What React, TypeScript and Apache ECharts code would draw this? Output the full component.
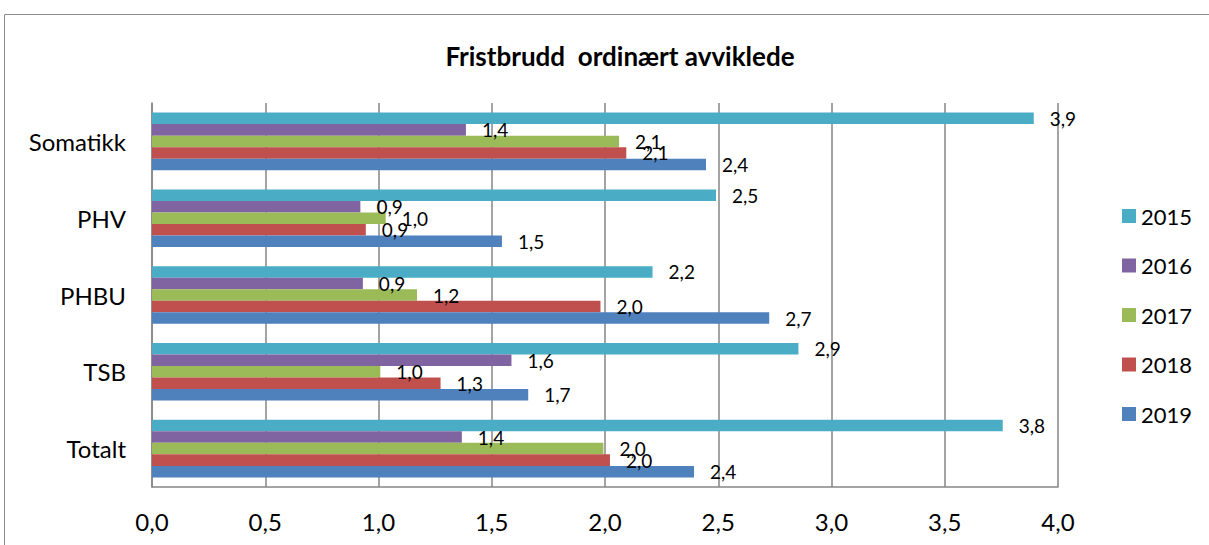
import React, { useEffect, useRef } from "react";
import * as echarts from "echarts";

const categories = ["Totalt", "TSB", "PHBU", "PHV", "Somatikk"];
const years = ["2015", "2016", "2017", "2018", "2019"];
const v2015 = [3.756, 2.854, 2.21, 2.49, 3.893];
const v2016 = [1.368, 1.587, 0.931, 0.92, 1.386];
const v2017 = [1.993, 1.008, 1.17, 1.032, 2.062];
const v2018 = [2.022, 1.274, 1.98, 0.944, 2.094];
const v2019 = [2.393, 1.661, 2.725, 1.545, 2.446];
const seriesValues = [v2015, v2016, v2017, v2018, v2019];
const colors = ["#4BACC6", "#8064A2", "#9BBB59", "#C0504D", "#4F81BD"];
const xTicks = ["0,0", "0,5", "1,0", "1,5", "2,0", "2,5", "3,0", "3,5", "4,0"];
const title = "Fristbrudd  ordinært avviklede";

const FONT = "Lato, 'Liberation Sans', sans-serif";

export default function App() {
  const ref = useRef<HTMLDivElement>(null);
  useEffect(() => {
    if (!ref.current) return;
    const chart = echarts.init(ref.current, null, { renderer: "svg" });
    chart.setOption({
      animation: false,
      backgroundColor: "#ffffff",
      textStyle: { fontFamily: FONT },
      title: {
        text: title,
        left: 615,
        top: 38,
        textAlign: "center",
        textStyle: { fontSize: 26, fontWeight: "bold", color: "#000", fontFamily: FONT },
      },
      graphic: [
        {
          type: "rect",
          shape: { x: 4.5, y: 14.5, width: 1220, height: 560 },
          style: { fill: "none", stroke: "#8c8c8c", lineWidth: 1 },
          silent: true,
        },
      ],
      legend: {
        orient: "vertical",
        left: 1117,
        top: 200,
        data: years,
        icon: "rect",
        itemWidth: 14,
        itemHeight: 14,
        itemGap: 27.5,
        textStyle: { fontSize: 22, color: "#000", fontFamily: FONT, lineHeight: 21 },
      },
      grid: { left: 152, right: 151, top: 103, bottom: 58 },
      xAxis: {
        type: "value",
        min: 0,
        max: 4,
        interval: 0.5,
        axisLine: { show: true, lineStyle: { color: "#868686", width: 1.5 } },
        axisTick: { show: false },
        splitLine: { show: true, lineStyle: { color: "#868686", width: 1.5 } },
        axisLabel: {
          fontSize: 24,
          color: "#000",
          margin: 22,
          fontFamily: FONT,
          formatter: (v: number) => xTicks[Math.round(v / 0.5)] ?? "",
        },
      },
      yAxis: {
        type: "category",
        data: categories,
        axisLine: { show: true, lineStyle: { color: "#868686", width: 1.5 } },
        axisTick: { show: false },
        axisLabel: { fontSize: 24, color: "#000", margin: 26, fontFamily: FONT },
      },
      series: years.map((y, i) => ({
        name: y,
        type: "bar",
        data: seriesValues[i],
        itemStyle: { color: colors[i] },
        barGap: "0%",
        barCategoryGap: "25%",
        label: {
          show: true,
          position: "right",
          distance: 16,
          fontSize: 19,
          color: "#000",
          fontFamily: FONT,
          formatter: (p: any) => Number(p.value).toFixed(1).replace(".", ","),
        },
      })),
    });
    return () => chart.dispose();
  }, []);
  return (
    <div
      ref={ref}
      style={{ position: "fixed", left: 0, top: 0, width: 1209, height: 545 }}
    />
  );
}
